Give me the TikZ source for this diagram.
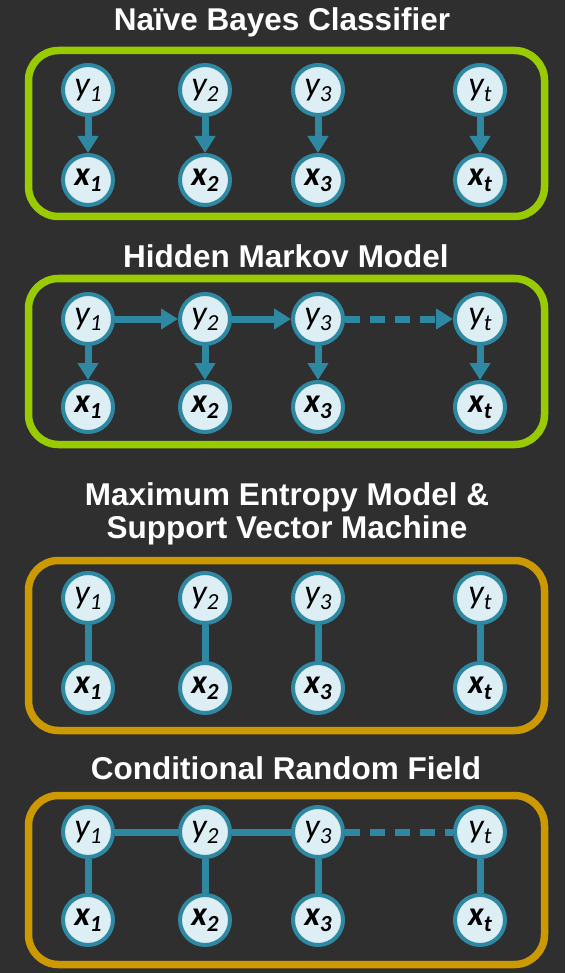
\documentclass[tikz,border=0pt]{standalone}
\usepackage{fontspec}
\setmainfont{Liberation Sans}
\newfontfamily\nodefont{Carlito}
\usetikzlibrary{arrows.meta}
\definecolor{bg}{HTML}{2F2F2F}
\definecolor{teal}{HTML}{2E88A2}
\definecolor{nodefill}{HTML}{DDEEF4}
\definecolor{lime}{HTML}{99CC00}
\definecolor{gold}{HTML}{CC9900}
\newcommand\lbl[2]{#1\raisebox{-6pt}{\fontsize{23}{23}\selectfont #2}}
\tikzset{
  var/.style={circle,draw=teal,fill=nodefill,line width=4pt,minimum size=50pt,inner sep=0pt,
    font=\nodefont\fontsize{34}{34}\selectfont\itshape},
  obs/.style={var,font=\nodefont\fontsize{34}{34}\selectfont\bfseries\itshape},
  frame/.style={rounded corners=30pt,line width=7.5pt},
  ttl/.style={text=white,font=\fontsize{31.5}{35}\selectfont\bfseries,align=center},
  arr/.style={draw=teal,line width=7pt,-{Triangle[length=17pt,width=20pt]}},
  edge/.style={draw=teal,line width=7pt},
}
\begin{document}
\begin{tikzpicture}[x=1pt,y=-1pt]
\fill[bg] (0,0) rectangle (565,973);
\useasboundingbox (0,0) rectangle (565,973);
% ---- Box 1
\node[ttl] (t1) at (282,22) {Naïve Bayes Classifier};
\draw[frame,draw=lime] (28.5,50.5) rectangle (544.5,216.5);
\foreach \n/\cx/\s in {1/88/1,2/205/2,3/318/3,t/480/t}{
  \node[var] (a-y\n) at (\cx,90) {\lbl{y}{\s}};
  \node[obs] (a-x\n) at (\cx,180) {\lbl{x}{\s}};
  \draw[arr] (a-y\n) -- (a-x\n);
}
% ---- Box 2
\node[ttl] (t2) at (286,256) {Hidden Markov Model};
\draw[frame,draw=lime] (28.5,278.5) rectangle (544.5,444.5);
\foreach \n/\cx/\s in {1/88/1,2/205/2,3/318/3,t/480/t}{
  \node[var] (b-y\n) at (\cx,319) {\lbl{y}{\s}};
  \node[obs] (b-x\n) at (\cx,407) {\lbl{x}{\s}};
  \draw[arr] (b-y\n) -- (b-x\n);
}
\draw[arr] (b-y1) -- (b-y2);
\draw[arr] (b-y2) -- (b-y3);
\draw[arr,dash pattern=on 15pt off 10pt] (b-y3) -- (b-yt);
% ---- Box 3
\node[ttl] (t3) at (287,514) {Maximum Entropy Model \&\\[-2pt]Support Vector Machine};
\draw[frame,draw=gold] (28.5,560.5) rectangle (544.5,730.5);
\foreach \n/\cx/\s in {1/88/1,2/205/2,3/318/3,t/480/t}{
  \node[var] (c-y\n) at (\cx,598) {\lbl{y}{\s}};
  \node[obs] (c-x\n) at (\cx,688) {\lbl{x}{\s}};
  \draw[edge] (c-y\n) -- (c-x\n);
}
% ---- Box 4
\node[ttl] (t4) at (286,768) {Conditional Random Field};
\draw[frame,draw=gold] (28.5,795.5) rectangle (544.5,964.5);
\foreach \n/\cx/\s in {1/88/1,2/205/2,3/318/3,t/480/t}{
  \node[var] (d-y\n) at (\cx,832) {\lbl{y}{\s}};
  \node[obs] (d-x\n) at (\cx,920) {\lbl{x}{\s}};
  \draw[edge] (d-y\n) -- (d-x\n);
}
\draw[edge] (d-y1) -- (d-y2);
\draw[edge] (d-y2) -- (d-y3);
\draw[edge,dash pattern=on 15pt off 10pt] (d-y3) -- (d-yt);
\end{tikzpicture}
\end{document}
